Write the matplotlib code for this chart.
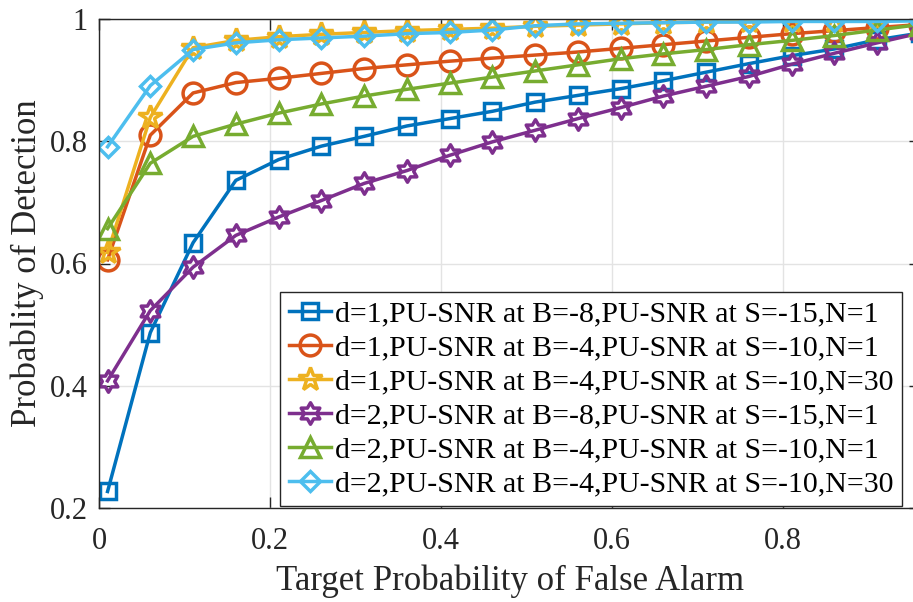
import matplotlib
matplotlib.use("Agg")
import matplotlib.pyplot as plt
from matplotlib.path import Path

plt.rcParams['font.family'] = ['Liberation Serif', 'DejaVu Serif']

pfa = [0.01, 0.06, 0.11, 0.16, 0.21, 0.26, 0.31, 0.36, 0.41, 0.46,
       0.51, 0.56, 0.61, 0.66, 0.71, 0.76, 0.81, 0.86, 0.91, 0.96]

pd_d1_b8_n1 = [0.227, 0.487, 0.634, 0.736, 0.770, 0.792, 0.808, 0.825, 0.837, 0.849,
               0.864, 0.875, 0.886, 0.899, 0.913, 0.927, 0.940, 0.951, 0.966, 0.977]
pd_d1_b4_n1 = [0.606, 0.810, 0.879, 0.896, 0.903, 0.911, 0.919, 0.925, 0.931, 0.936,
               0.941, 0.946, 0.952, 0.958, 0.964, 0.970, 0.976, 0.981, 0.986, 0.991]
pd_d1_b4_n30 = [0.618, 0.839, 0.953, 0.965, 0.971, 0.975, 0.978, 0.981, 0.983, 0.985,
                0.988, 0.990, 0.992, 0.994, 0.995, 0.996, 0.997, 0.997, 0.998, 0.998]
pd_d2_b8_n1 = [0.408, 0.523, 0.594, 0.646, 0.676, 0.703, 0.731, 0.752, 0.777, 0.799,
               0.818, 0.837, 0.855, 0.874, 0.890, 0.906, 0.926, 0.944, 0.961, 0.977]
pd_d2_b4_n1 = [0.657, 0.764, 0.808, 0.828, 0.846, 0.861, 0.874, 0.885, 0.895, 0.905,
               0.915, 0.925, 0.935, 0.943, 0.950, 0.958, 0.965, 0.973, 0.982, 0.991]
pd_d2_b4_n30 = [0.791, 0.891, 0.950, 0.961, 0.966, 0.969, 0.972, 0.976, 0.978, 0.982,
                0.989, 0.992, 0.993, 0.994, 0.995, 0.995, 0.996, 0.996, 0.996, 0.997]

labels = ["d=1,PU-SNR at B=-8,PU-SNR at S=-15,N=1",
          "d=1,PU-SNR at B=-4,PU-SNR at S=-10,N=1",
          "d=1,PU-SNR at B=-4,PU-SNR at S=-10,N=30",
          "d=2,PU-SNR at B=-8,PU-SNR at S=-15,N=1",
          "d=2,PU-SNR at B=-4,PU-SNR at S=-10,N=1",
          "d=2,PU-SNR at B=-4,PU-SNR at S=-10,N=30"]

hexagram = Path.unit_regular_star(6, innerCircle=0.577)

styles = [("#0072BD", "s", 11),
          ("#D95319", "o", 15),
          ("#EDB120", "*", 17.5),
          ("#7E2F8E", hexagram, 15.5),
          ("#77AC30", "^", 15),
          ("#4DBEEE", "D", 10.5)]
series = [pd_d1_b8_n1, pd_d1_b4_n1, pd_d1_b4_n30, pd_d2_b8_n1, pd_d2_b4_n1, pd_d2_b4_n30]

fig = plt.figure(figsize=(9.13, 6.02), dpi=100)
ax = fig.add_axes([99/913, 94/602, 821/913, 489/602])

for vals, (col, mk, ms), lab in zip(series, styles, labels):
    ax.plot(pfa, vals, color=col, marker=mk, markersize=ms, linewidth=2.5,
            markerfacecolor="none", markeredgewidth=2.5, label=lab)

ax.set_xlim(0, 0.96)
ax.set_ylim(0.2, 1)
ax.set_xticks([0, 0.2, 0.4, 0.6, 0.8])
ax.set_xticklabels(["0", "0.2", "0.4", "0.6", "0.8"])
ax.set_yticks([0.2, 0.4, 0.6, 0.8, 1])
ax.set_yticklabels(["0.2", "0.4", "0.6", "0.8", "1"])
ax.grid(True, color="#e3e3e3", linewidth=1)
ax.set_axisbelow(True)
for sp in ax.spines.values():
    sp.set_color("#262626")
    sp.set_linewidth(1)
ax.tick_params(direction="in", length=8, width=1, colors="#262626",
               labelsize=22, top=True, right=True)
ax.tick_params(axis="y", pad=8)
ax.tick_params(axis="x", pad=14)

ax.set_xlabel("Target Probability of False Alarm", fontsize=25, color="#262626", labelpad=6)
ax.set_ylabel("Probablity of Detection", fontsize=25, color="#262626", labelpad=4)

leg = ax.legend(loc="lower right", bbox_to_anchor=(902/913, 96/602),
                bbox_transform=fig.transFigure, fontsize=21.5, frameon=True,
                fancybox=False, framealpha=1, edgecolor="#262626",
                borderaxespad=0, borderpad=0.28, labelspacing=0.24,
                handlelength=1.4, handletextpad=0.15)
leg.get_frame().set_linewidth(1)

fig.savefig("out.png", dpi=100)
